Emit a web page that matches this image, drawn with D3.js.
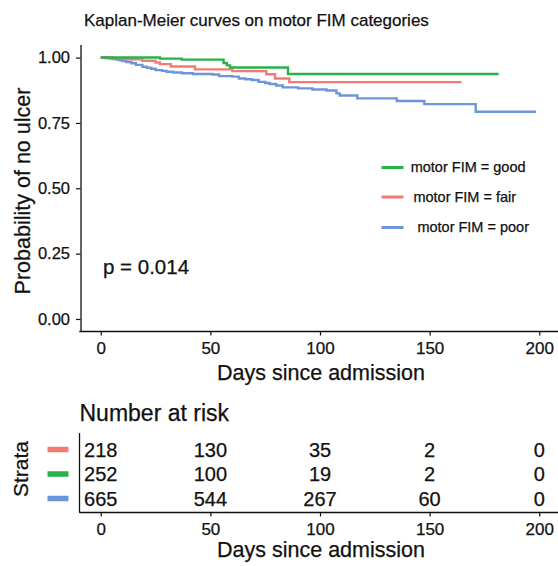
<!DOCTYPE html>
<html>
<head>
<meta charset="utf-8">
<title>Kaplan-Meier curves on motor FIM categories</title>
<script src="https://d3js.org/d3.v7.min.js"></script>
<style>
  body { margin: 0; background: #fff; }
  svg { display: block; }
  text { font-family: 'Liberation Sans', Arial, sans-serif; fill: #111; stroke: #111; stroke-width: 0.25px; }
</style>
</head>
<body>
<script>
// survival estimates
const goodTime = [0, 27, 37, 56, 57.5, 59, 85.4, 181.5];
const goodSurv = [1, .996, .992, .979, .970, .962, .937, .937];

const fairTime = [0, 5.5, 11, 19, 25, 27, 32, 43, 60, 75.5, 79.5, 86, 164.5];
const fairSurv = [1, .998, .993, .988, .981, .975, .966, .955, .948, .936, .920, .906, .906];

const poorTime = [0, 2, 4, 5.5, 7, 8.7, 10, 11.7, 14, 16, 19, 21, 23, 25, 28, 30, 33, 37, 42, 51,
  54, 60, 63, 66, 69, 72, 75, 77, 80, 83, 90, 96.6, 103, 107.5, 109, 117, 135, 147.6, 171, 198.5];
const poorSurv = [1, .998, .996, .994, .992, .990, .987, .983, .978, .972, .965, .961, .957, .952, .949, .946, .943, .940, .937, .935,
  .929, .927, .920, .917, .914, .907, .903, .899, .893, .886, .882, .878, .874, .863, .855, .844, .834, .822, .793, .793];

const yTicks = [0, 0.25, 0.5, 0.75, 1];
const xTicks = [0, 50, 100, 150, 200];

const legendLabels = ['motor FIM = good', 'motor FIM = fair', 'motor FIM = poor'];
const strataOrder = ['fair', 'good', 'poor'];
const riskFair = [218, 130, 35, 2, 0];
const riskGood = [252, 100, 19, 2, 0];
const riskPoor = [665, 544, 267, 60, 0];

const colors = { good: '#27b24a', fair: '#f47a72', poor: '#6c95da' };

const W = 558, H = 566;
const svg = d3.select('body').append('svg').attr('width', W).attr('height', H);
svg.append('rect').attr('width', W).attr('height', H).attr('fill', '#fff');

const x = d3.scaleLinear().domain([-10, 210]).range([78.8, 561.2]);
const y = d3.scaleLinear().domain([-0.046, 1.05]).range([331, 44.5]);

function styleAxis(g, size) {
  g.select('.domain').attr('stroke', '#111').attr('stroke-width', 1.3);
  g.selectAll('.tick line').attr('stroke', '#111').attr('stroke-width', 1.2);
  g.selectAll('.tick text').style('font-size', size).attr('fill', '#111')
    .style('font-family', "'Liberation Sans', Arial, sans-serif");
}

// title
svg.append('text').attr('x', 84).attr('y', 25.5).style('font-size', '17px')
  .text('Kaplan-Meier curves on motor FIM categories');

// main axes
const gx = svg.append('g').attr('transform', 'translate(0,331)')
  .call(d3.axisBottom(x).tickValues(xTicks).tickSize(4.5).tickSizeOuter(0).tickPadding(6.5).tickFormat(d3.format('d')));
const gy = svg.append('g').attr('transform', 'translate(80.5,0)')
  .call(d3.axisLeft(y).tickValues(yTicks).tickSize(4.5).tickSizeOuter(0).tickPadding(6).tickFormat(d3.format('.2f')));
styleAxis(gx, '17px');
styleAxis(gy, '16.5px');

svg.append('text').attr('x', 321).attr('y', 380).attr('text-anchor', 'middle')
  .style('font-size', '21.5px').text('Days since admission');
svg.append('text').attr('transform', 'translate(30,191) rotate(-90)').attr('text-anchor', 'middle')
  .style('font-size', '21.5px').text('Probability of no ulcer');

// curves
const line = d3.line().curve(d3.curveStepAfter).x(d => x(d[0])).y(d => y(d[1]));
const series = [
  { key: 'poor', t: poorTime, s: poorSurv },
  { key: 'fair', t: fairTime, s: fairSurv },
  { key: 'good', t: goodTime, s: goodSurv }
];
series.forEach(sr => {
  svg.append('path').datum(d3.zip(sr.t, sr.s))
    .attr('fill', 'none').attr('stroke', colors[sr.key]).attr('stroke-width', 2.4)
    .attr('d', line);
});

// p-value
svg.append('text').attr('x', 103).attr('y', 274).style('font-size', '20.5px').text('p = 0.014');

// legend
const legKeys = ['good', 'fair', 'poor'];
const legY = [167.5, 197, 227.5];
const legDx = [0, 2.7, 6.7];
legKeys.forEach((k, i) => {
  svg.append('line').attr('x1', 381.5).attr('x2', 403.5).attr('y1', legY[i]).attr('y2', legY[i])
    .attr('stroke', colors[k]).attr('stroke-width', 3);
  svg.append('text').attr('x', 410.7 + legDx[i]).attr('y', legY[i] + 4.5)
    .style('font-size', '14.5px').text(legendLabels[i]);
});

// risk table
svg.append('text').attr('x', 79.5).attr('y', 421).style('font-size', '23px').text('Number at risk');

const rowY = d3.scalePoint().domain(strataOrder).range([449.5, 498.5]);
const riskRows = { fair: riskFair, good: riskGood, poor: riskPoor };

const gx2 = svg.append('g').attr('transform', 'translate(0,512)')
  .call(d3.axisBottom(x).tickValues(xTicks).tickSize(4.5).tickSizeOuter(0).tickPadding(6.5).tickFormat(d3.format('d')));
styleAxis(gx2, '17px');
svg.append('line').attr('x1', 79.5).attr('x2', 79.5).attr('y1', 433).attr('y2', 512.5)
  .attr('stroke', '#111').attr('stroke-width', 1.3);

strataOrder.forEach(k => {
  const cy = rowY(k);
  svg.append('line').attr('x1', 47.5).attr('x2', 68.5).attr('y1', cy).attr('y2', cy)
    .attr('stroke', colors[k]).attr('stroke-width', 5.5);
  svg.selectAll(null).data(d3.zip(xTicks, riskRows[k])).join('text')
    .attr('x', d => x(d[0])).attr('y', cy + 7).attr('text-anchor', 'middle')
    .style('font-size', '20px').text(d => d[1]);
});

svg.append('text').attr('transform', 'translate(27.5,469) rotate(-90)').attr('text-anchor', 'middle')
  .style('font-size', '21px').text('Strata');
svg.append('text').attr('x', 321).attr('y', 557).attr('text-anchor', 'middle')
  .style('font-size', '21.5px').text('Days since admission');
</script>
</body>
</html>
